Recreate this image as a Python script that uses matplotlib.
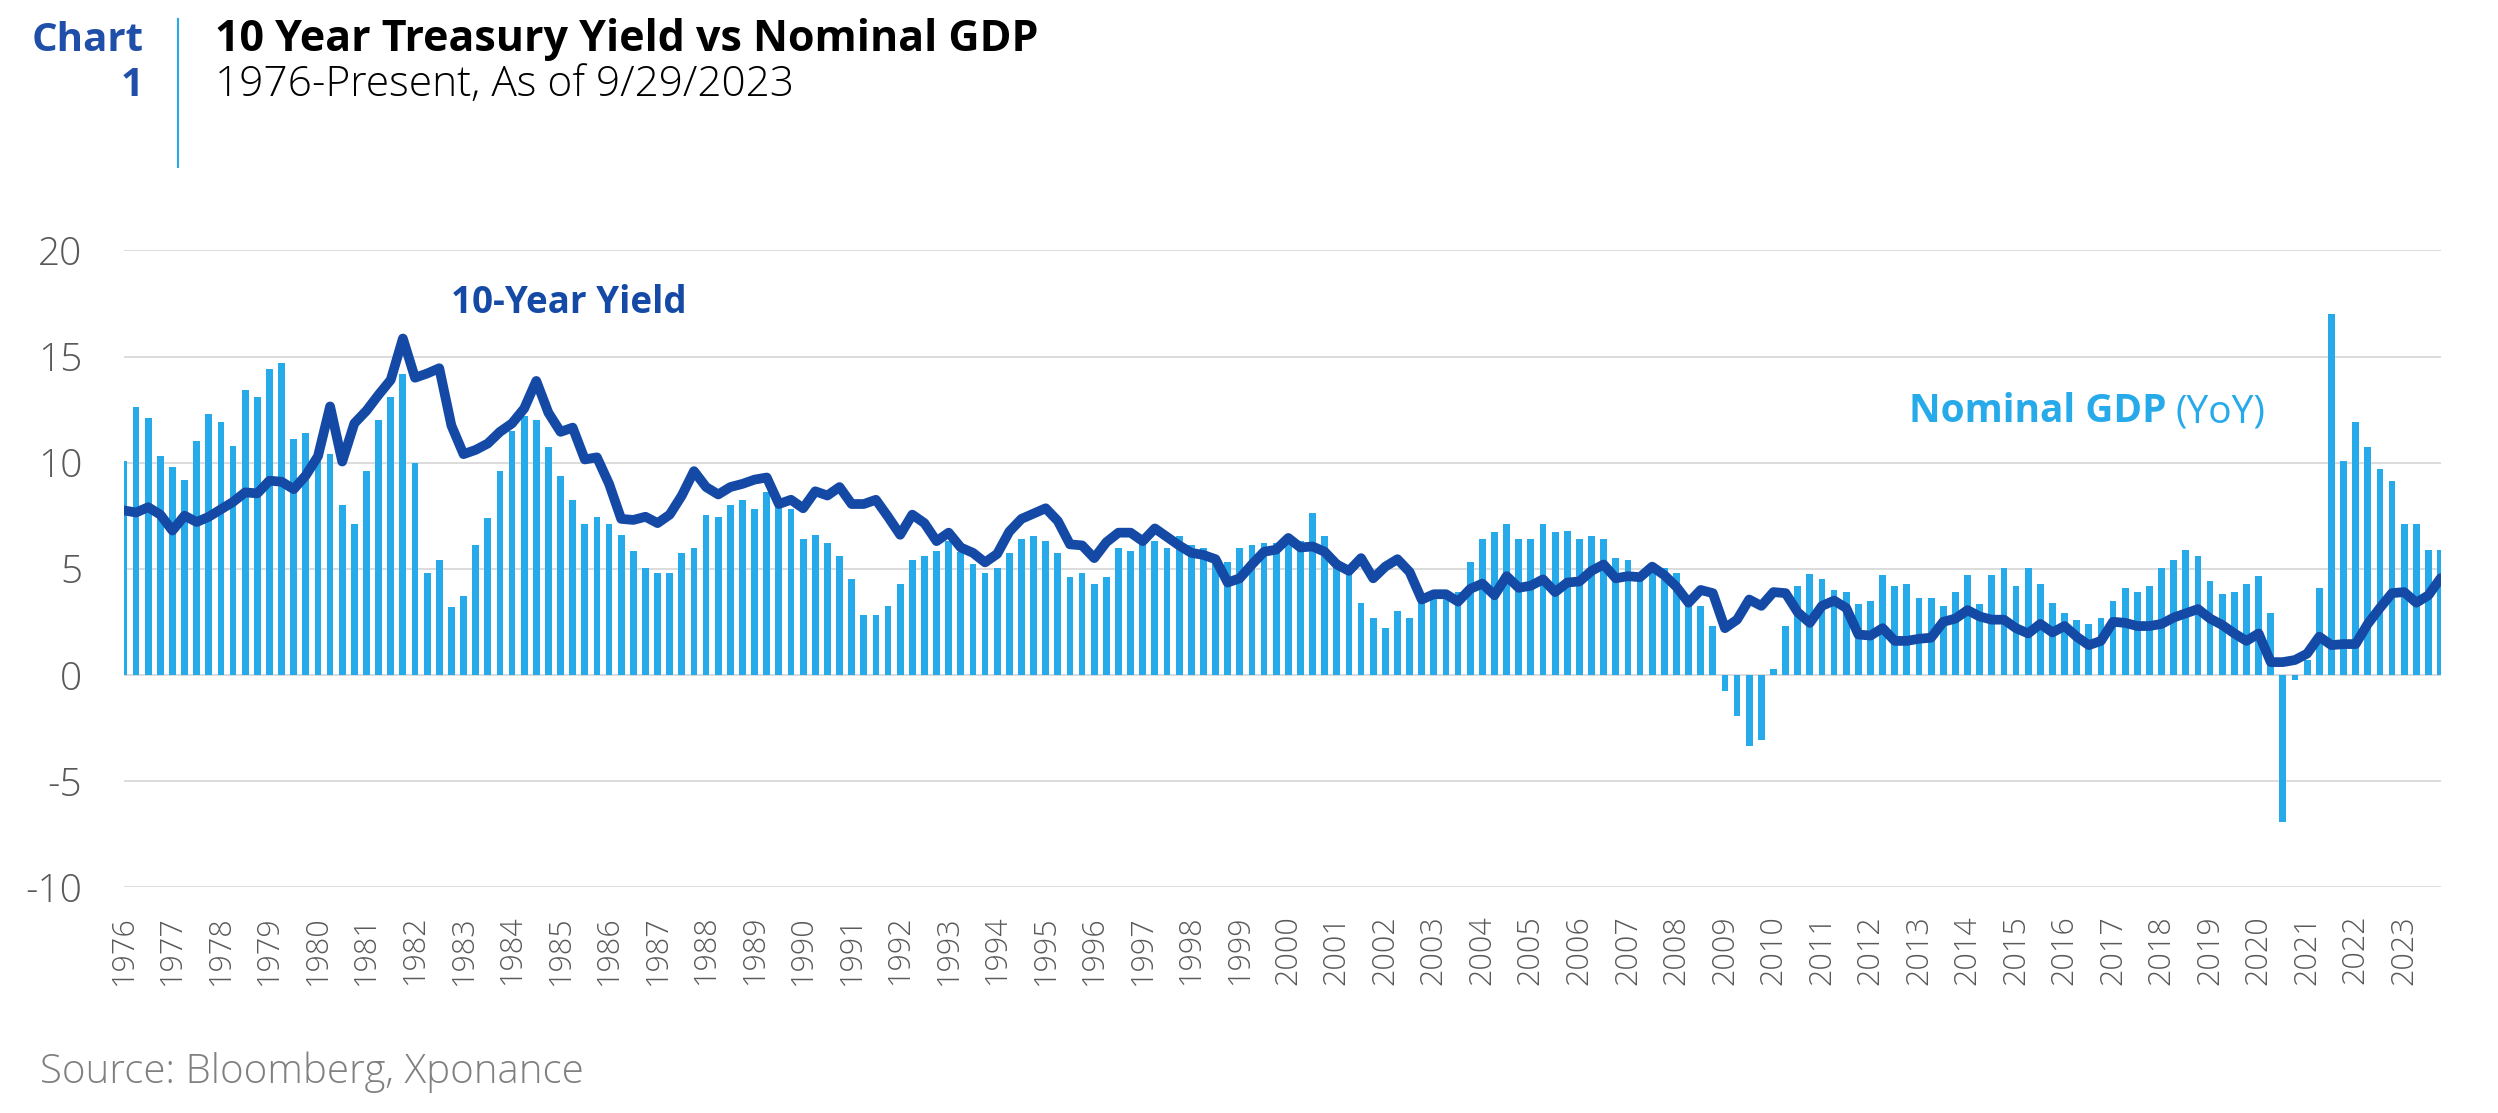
import matplotlib
matplotlib.use('Agg')
import matplotlib.pyplot as plt
import numpy as np

# quarterly values, Q4 1975 through Q3 2023
gdp_yoy = [
    10.1,
    12.6, 12.1, 10.3, 9.8,      # 1976
    9.2, 11.0, 12.3, 11.9,      # 1977
    10.8, 13.4, 13.1, 14.4,     # 1978
    14.7, 11.1, 11.4, 10.3,     # 1979
    10.4, 8.0, 7.1, 9.6,        # 1980
    12.0, 13.1, 14.2, 10.0,     # 1981
    4.8, 5.4, 3.2, 3.7,         # 1982
    6.1, 7.4, 9.6, 11.5,        # 1983
    12.2, 12.0, 10.75, 9.35,    # 1984
    8.25, 7.1, 7.45, 7.1,       # 1985
    6.6, 5.85, 5.05, 4.8,       # 1986
    4.8, 5.75, 6.0, 7.55,       # 1987
    7.45, 8.0, 8.25, 7.8,       # 1988
    8.6, 7.9, 7.8, 6.4,         # 1989
    6.6, 6.2, 5.6, 4.5,         # 1990
    2.8, 2.8, 3.25, 4.3,        # 1991
    5.4, 5.6, 5.85, 6.3,        # 1992
    5.8, 5.2, 4.8, 5.05,        # 1993
    5.75, 6.4, 6.55, 6.3,       # 1994
    5.75, 4.6, 4.8, 4.3,        # 1995
    4.6, 6.0, 5.85, 6.3,        # 1996
    6.3, 6.0, 6.55, 6.1,        # 1997
    6.0, 5.6, 5.3, 6.0,         # 1998
    6.1, 6.2, 6.2, 6.5,         # 1999
    6.3, 7.65, 6.55, 5.4,       # 2000
    5.0, 3.4, 2.7, 2.2,         # 2001
    3.0, 2.7, 3.55, 3.75,       # 2002
    3.65, 3.9, 5.3, 6.4,        # 2003
    6.75, 7.1, 6.4, 6.4,        # 2004
    7.1, 6.75, 6.8, 6.4,        # 2005
    6.55, 6.4, 5.5, 5.4,        # 2006
    4.8, 5.1, 5.05, 4.8,        # 2007
    3.55, 3.25, 2.3, -0.75,     # 2008
    -1.95, -3.35, -3.05, 0.27,  # 2009
    2.3, 4.2, 4.75, 4.5,        # 2010
    4.0, 3.9, 3.35, 3.5,        # 2011
    4.7, 4.2, 4.3, 3.6,         # 2012
    3.6, 3.25, 3.9, 4.7,        # 2013
    3.35, 4.7, 5.05, 4.2,       # 2014
    5.05, 4.3, 3.4, 2.9,        # 2015
    2.6, 2.4, 2.7, 3.5,         # 2016
    4.1, 3.9, 4.2, 5.05,        # 2017
    5.4, 5.9, 5.6, 4.4,         # 2018
    3.8, 3.9, 4.3, 4.65,        # 2019
    2.9, -6.95, -0.25, 0.7,     # 2020
    4.1, 17.0, 10.1, 11.9,      # 2021
    10.75, 9.7, 9.15, 7.1,      # 2022
    7.1, 5.9, 5.9,              # 2023
]

yield_10y = [
    7.75,
    7.65, 7.9, 7.55, 6.8,
    7.5, 7.2, 7.45, 7.8,
    8.15, 8.6, 8.55, 9.15,
    9.1, 8.75, 9.4, 10.3,
    12.65, 10.05, 11.85, 12.45,
    13.2, 13.9, 15.85, 14.0,
    14.2, 14.45, 11.75, 10.4,
    10.6, 10.9, 11.45, 11.85,
    12.55, 13.85, 12.35, 11.45,
    11.65, 10.15, 10.25, 9.0,
    7.35, 7.3, 7.45, 7.15,
    7.55, 8.45, 9.6, 8.85,
    8.5, 8.85, 9.0, 9.2,
    9.3, 8.05, 8.25, 7.85,
    8.65, 8.45, 8.85, 8.05,
    8.05, 8.25, 7.45, 6.6,
    7.55, 7.15, 6.3, 6.7,
    6.0, 5.75, 5.3, 5.7,
    6.75, 7.35, 7.6, 7.85,
    7.25, 6.15, 6.1, 5.5,
    6.25, 6.7, 6.7, 6.3,
    6.9, 6.5, 6.1, 5.75,
    5.65, 5.45, 4.35, 4.55,
    5.2, 5.8, 5.9, 6.45,
    6.0, 6.05, 5.8, 5.2,
    4.9, 5.5, 4.55, 5.1,
    5.45, 4.85, 3.55, 3.8,
    3.8, 3.45, 4.05, 4.3,
    3.75, 4.65, 4.1, 4.2,
    4.5, 3.9, 4.35, 4.4,
    4.9, 5.2, 4.55, 4.65,
    4.6, 5.1, 4.7, 4.15,
    3.4, 4.0, 3.85, 2.2,
    2.6, 3.55, 3.25, 3.9,
    3.85, 2.95, 2.45, 3.25,
    3.5, 3.15, 1.9, 1.85,
    2.2, 1.6, 1.6, 1.7,
    1.75, 2.5, 2.65, 3.05,
    2.75, 2.6, 2.6, 2.2,
    1.95, 2.4, 2.0, 2.3,
    1.8, 1.4, 1.6, 2.5,
    2.45, 2.3, 2.3, 2.4,
    2.7, 2.9, 3.1, 2.65,
    2.35, 1.95, 1.6, 1.95,
    0.6, 0.6, 0.7, 1.0,
    1.8, 1.4, 1.45, 1.45,
    2.4, 3.15, 3.85, 3.9,
    3.4, 3.75, 4.55,
]

year_labels = [str(y) for y in range(1976, 2024)]
y_ticks = [-10, -5, 0, 5, 10, 15, 20]
y_labels = ['-10', '-5', '0', '5', '10', '15', '20']

BAR_BLUE = '#27aae9'
LINE_BLUE = '#144aa6'
GRAY = '#595959'


def main():
    plt.rcParams['font.family'] = ['Open Sans', 'DejaVu Sans']

    fig = plt.figure(figsize=(24.98, 11.13), dpi=100)
    ax = fig.add_axes([0.0496, 0.203, 0.9274, 0.572])

    x = np.arange(len(gdp_yoy))
    ax.bar(x, gdp_yoy, width=0.56, color=BAR_BLUE, zorder=2)
    ax.plot(x, yield_10y, color=LINE_BLUE, lw=7, solid_joinstyle='round',
            solid_capstyle='round', zorder=3)

    ax.set_xlim(0, len(x) - 1)
    ax.set_ylim(-10, 20)
    ax.set_yticks(y_ticks)
    ax.set_yticklabels(y_labels, fontweight='light')
    ax.set_xticks(x[::4])
    ax.set_xticklabels(year_labels, rotation=90, fontweight='light')
    ax.grid(axis='y', color='#d9d9d9', lw=1.3)
    ax.set_axisbelow(True)
    for s in ax.spines.values():
        s.set_visible(False)
    ax.tick_params(axis='x', length=0, pad=20, labelsize=22, labelcolor=GRAY)
    ax.tick_params(axis='y', length=0, pad=30, labelsize=28, labelcolor=GRAY)

    # series labels
    ax.text(27, 17.5, '10-Year Yield', color=LINE_BLUE, fontsize=26.5,
            fontweight='bold', va='center', ha='left')
    t = ax.text(147.2, 12.4, 'Nominal GDP', color=BAR_BLUE, fontsize=28,
                fontweight='bold', va='center', ha='left')
    ax.annotate('(YoY)', xy=(1, 0), xycoords=t, xytext=(6, 0),
                textcoords='offset points', color=BAR_BLUE, fontsize=28,
                va='bottom', ha='left')

    # header
    fig.text(0.0574, 0.954, 'Chart', color='#1f4fa8', fontsize=29,
             fontweight='bold', ha='right', va='baseline')
    fig.text(0.0574, 0.914, '1', color='#1f4fa8', fontsize=29,
             fontweight='bold', ha='right', va='baseline')
    fig.add_artist(plt.Line2D([0.0714, 0.0714], [0.850, 0.983],
                              color='#29a9e8', lw=1.5))
    fig.text(0.086, 0.954, '10 Year Treasury Yield vs Nominal GDP',
             color='black', fontsize=31, fontweight='bold', va='baseline')
    fig.text(0.086, 0.914, '1976-Present, As of 9/29/2023',
             color='black', fontsize=30.5, fontweight='light', va='baseline')

    fig.text(0.016, 0.027, 'Source: Bloomberg, Xponance', color='#808080',
             fontsize=29, fontweight='light', va='baseline')

    fig.savefig('out.png', dpi=100)


if __name__ == "__main__":
    main()
